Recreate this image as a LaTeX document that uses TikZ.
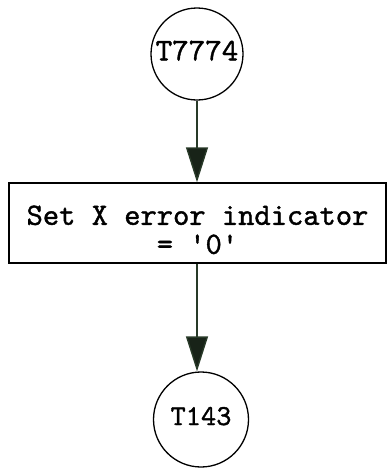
\documentclass[tikz,border=0pt]{standalone}
\usepackage{fontspec}
\newfontfamily\tyfont[FakeBold=1.2]{lmmono10-regular.otf}
\usetikzlibrary{arrows.meta}
\definecolor{conncol}{RGB}{40,58,40}
\begin{document}
\begin{tikzpicture}[x=1pt,y=-1pt,
  conn/.style={draw=conncol, line width=1.4pt, -{Triangle[length=35pt,width=22pt,fill=conncol!60!black]}},
  term/.style={circle, draw, line width=1.3pt, inner sep=0pt, text depth=7pt},
  proc/.style={draw, line width=1.4pt, minimum width=377pt, minimum height=80pt, align=center, font=\tyfont\fontsize{31}{29}\selectfont}]
\useasboundingbox (0,0) rectangle (388,469);
\node[term, minimum size=92pt, font=\tyfont\fontsize{31.5}{33}\selectfont] (t1) at (197,54) {T7774};
\node[proc] (p) at (197.5,223) {\rule{0pt}{33pt}Set X error indicator\\= '0'};
\node[term, minimum size=95pt, font=\tyfont\fontsize{29}{31}\selectfont] (t2) at (201,419.5) {T143};
\draw[conn] (t1.south) -- (p.north -| t1.south);
\draw[conn] (p.south -| t1.south) -- (t2.north -| t1.south);
\end{tikzpicture}
\end{document}
